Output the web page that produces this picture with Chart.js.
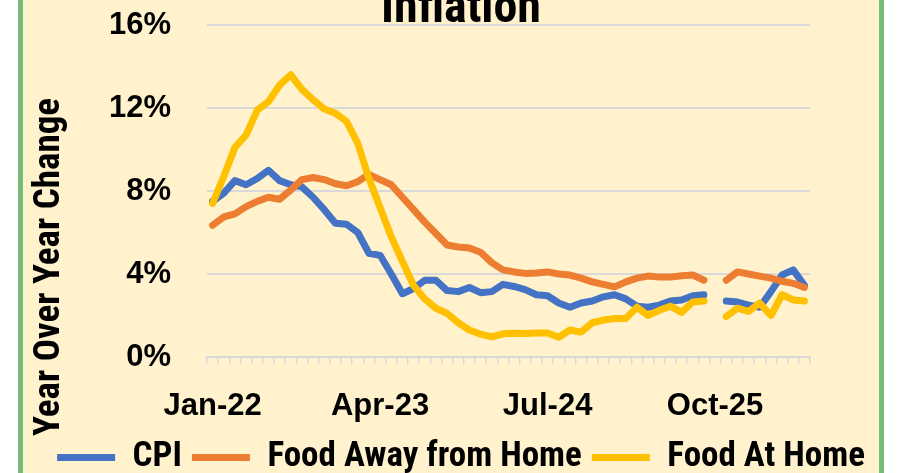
<!DOCTYPE html>
<html>
<head>
<meta charset="utf-8">
<script src="https://cdn.jsdelivr.net/npm/chart.js@4.4.1/dist/chart.umd.min.js"></script>
<style>
  html, body { margin: 0; padding: 0; background: #fff; width: 900px; height: 473px; overflow: hidden; }
  #frame { position: absolute; left: 18px; top: 0; width: 856px; height: 473px;
           border-left: 5px solid #74BC78; border-right: 5px solid #74BC78;
           background: #FFF2CC; overflow: hidden; }
  #box { position: absolute; left: 0; top: -30px; width: 856px; height: 515px; }
</style>
</head>
<body>
<div id="frame"><div id="box"><canvas id="chart"></canvas></div></div>
<script>
// Data (year-over-year %, monthly; Oct-25 missing) ----------------------
var MONTHS = [
  "Jan-22","Feb-22","Mar-22","Apr-22","May-22","Jun-22","Jul-22","Aug-22","Sep-22","Oct-22","Nov-22","Dec-22",
  "Jan-23","Feb-23","Mar-23","Apr-23","May-23","Jun-23","Jul-23","Aug-23","Sep-23","Oct-23","Nov-23","Dec-23",
  "Jan-24","Feb-24","Mar-24","Apr-24","May-24","Jun-24","Jul-24","Aug-24","Sep-24","Oct-24","Nov-24","Dec-24",
  "Jan-25","Feb-25","Mar-25","Apr-25","May-25","Jun-25","Jul-25","Aug-25","Sep-25","Oct-25","Nov-25","Dec-25",
  "Jan-26","Feb-26","Mar-26","Apr-26","May-26","Jun-26"
];
var X_LABELS = ["Jan-22", "Apr-23", "Jul-24", "Oct-25"];
var Y_TICKS = [0, 4, 8, 12, 16];

var CPI = [
  7.5, 7.9, 8.5, 8.3, 8.6, 9.0, 8.5, 8.3, 8.2, 7.7, 7.1, 6.45,
  6.4, 6.0, 5.0, 4.9, 4.0, 3.05, 3.3, 3.7, 3.7, 3.2, 3.15, 3.35,
  3.1, 3.15, 3.5, 3.4, 3.25, 3.0, 2.95, 2.6, 2.4, 2.6, 2.7, 2.9,
  3.0, 2.8, 2.45, 2.4, 2.5, 2.7, 2.75, 2.95, 3.0,
  null,
  2.7, 2.65, 2.5, 2.4, 3.15, 3.95, 4.2, 3.45
];
var FOOD_AWAY = [
  6.35, 6.75, 6.9, 7.25, 7.5, 7.7, 7.6, 8.05, 8.55, 8.65, 8.55, 8.35,
  8.25, 8.45, 8.8, 8.55, 8.3, 7.7, 7.1, 6.5, 5.95, 5.4, 5.3, 5.25,
  5.05, 4.55, 4.2, 4.1, 4.03, 4.05, 4.1, 4.0, 3.95, 3.8, 3.62, 3.5,
  3.38, 3.62, 3.8, 3.9, 3.85, 3.85, 3.92, 3.95, 3.7,
  null,
  3.7, 4.1, 4.0, 3.9, 3.8, 3.65, 3.55, 3.35
];
var FOOD_HOME = [
  7.4, 8.7, 10.1, 10.7, 11.9, 12.3, 13.1, 13.6, 12.9, 12.4, 11.95, 11.75,
  11.35, 10.3, 8.6, 7.2, 5.8, 4.6, 3.45, 2.8, 2.35, 2.1, 1.65, 1.3,
  1.1, 0.97, 1.12, 1.15, 1.13, 1.16, 1.16, 0.95, 1.3, 1.2, 1.65, 1.78,
  1.85, 1.85, 2.4, 2.0, 2.25, 2.45, 2.15, 2.65, 2.7,
  null,
  1.95, 2.35, 2.2, 2.6, 2.0, 3.0, 2.75, 2.7
];

// Theme ------------------------------------------------------------------
var BLUE = "#4472C4", ORANGE = "#ED7D31", GOLD = "#FFC000", GRID = "#D9D9D9";
var NARROW = '"Roboto Condensed", "DejaVu Sans Condensed", sans-serif';
var WIDE = '"Liberation Sans", Arial, sans-serif';

function series(label, data, color, order) {
  return {
    label: label, data: data, order: order,
    borderColor: color, backgroundColor: color,
    borderWidth: 7, pointRadius: 0, pointHoverRadius: 0,
    borderJoinStyle: "round", borderCapStyle: "round",
    tension: 0, spanGaps: false
  };
}

// vertical axis title, placed like the original (not centred on the plot)
var axisTitle = {
  id: "axisTitle",
  afterDraw: function (chart) {
    var ctx = chart.ctx, a = chart.chartArea;
    ctx.save();
    ctx.font = "bold 37px " + NARROW;
    ctx.fillStyle = "#000";
    ctx.textAlign = "center";
    ctx.textBaseline = "middle";
    ctx.translate(27, a.bottom - 90);
    ctx.rotate(-Math.PI / 2);
    ctx.fillText("Year Over Year Change", 0, 0);
    ctx.restore();
  }
};

new Chart(document.getElementById("chart"), {
  type: "line",
  data: {
    labels: MONTHS,
    datasets: [
      series("CPI", CPI, BLUE, 3),
      series("Food Away from Home", FOOD_AWAY, ORANGE, 2),
      series("Food At Home", FOOD_HOME, GOLD, 1)
    ]
  },
  options: {
    responsive: true,
    maintainAspectRatio: false,
    animation: false,
    layout: { padding: { left: 20, right: 0, top: 0, bottom: 0 } },
    plugins: {
      title: {
        display: true, text: "Inflation", color: "#000",
        font: { family: NARROW, size: 48, weight: "bold", lineHeight: 1 },
        padding: { top: 16, bottom: -9 }
      },
      legend: {
        position: "bottom",
        labels: {
          color: "#000",
          font: { family: NARROW, size: 35, weight: "bold" },
          usePointStyle: true, pointStyle: "line", pointStyleWidth: 58,
          padding: 10,
          sort: function (a, b) { return a.datasetIndex - b.datasetIndex; }
        }
      },
      tooltip: { enabled: false }
    },
    scales: {
      x: {
        offset: true,
        grid: { display: true, offset: true, drawOnChartArea: false, drawTicks: true,
                tickLength: 7, color: GRID, lineWidth: 1.5 },
        border: { display: true, color: GRID, width: 2 },
        ticks: {
          autoSkip: false, maxRotation: 0, color: "#000", padding: 24,
          font: { family: WIDE, size: 31, weight: "bold" },
          callback: function (v, i) { return X_LABELS.indexOf(MONTHS[i]) >= 0 ? MONTHS[i] : ""; }
        },
        afterFit: function (s) { s.height = 73; }
      },
      y: {
        min: Y_TICKS[0], max: Y_TICKS[Y_TICKS.length - 1],
        grid: { color: GRID, lineWidth: 2, drawTicks: false },
        border: { display: false },
        ticks: {
          stepSize: Y_TICKS[1] - Y_TICKS[0], padding: 36, color: "#000",
          font: { family: WIDE, size: 31, weight: "bold" },
          callback: function (v) { return v + "%"; }
        },
        afterFit: function (s) { s.width = 164; }
      },
      yRight: {
        position: "right", display: true,
        grid: { display: false }, border: { display: false }, ticks: { display: false },
        afterFit: function (s) { s.width = 69; }
      }
    }
  },
  plugins: [axisTitle]
});
</script>
</body>
</html>
